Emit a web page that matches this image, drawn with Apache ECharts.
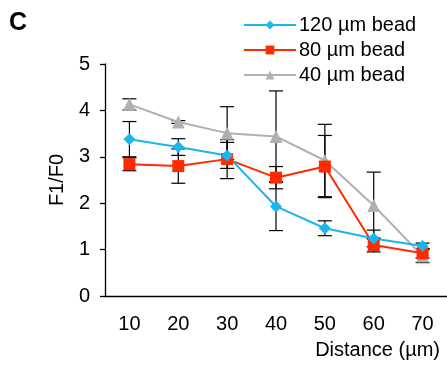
<!DOCTYPE html>
<html>
<head>
<meta charset="utf-8">
<script src="https://cdn.jsdelivr.net/npm/echarts@6/dist/echarts.min.js"></script>
<style>
  html, body { margin: 0; padding: 0; background: #fff; }
  #chart { width: 447px; height: 365px; }
</style>
</head>
<body>
<div id="chart"></div>
<script>
// Distance from bead (µm)
const distances = ['10', '20', '30', '40', '50', '60', '70'];

// Mean F1/F0 per bead size
const bead120 = [3.38, 3.21, 3.03, 1.93, 1.46, 1.24, 1.08];
const bead80  = [2.84, 2.80, 2.95, 2.55, 2.79, 1.10, 0.92];
const bead40  = [4.13, 3.75, 3.51, 3.44, 2.92, 1.95, 0.86];

// Error (±) per point
const err120 = [0.38, 0.18, 0.28, 0.52, 0.16, 0.18, 0.06];
const err80  = [0.14, 0.37, 0.42, 0.24, 0.67, 0.15, 0.10];
const err40  = [0.12, 0.03, 0.57, 0.98, 0.78, 0.72, 0.14];

const yTicks = [0, 1, 2, 3, 4, 5];

const FONT = '"Liberation Sans", Arial, Helvetica, sans-serif';

function errorData(means, errs) {
  return means.map((m, i) => [i, m - errs[i], m + errs[i]]);
}

function errorSeries(means, errs) {
  return {
    type: 'custom',
    silent: true,
    z: 1,
    data: errorData(means, errs),
    renderItem: function (params, api) {
      const lo = api.coord([api.value(0), api.value(1)]);
      const hi = api.coord([api.value(0), api.value(2)]);
      const hw = 7;
      const style = { stroke: '#000', lineWidth: 1.2 };
      return {
        type: 'group',
        children: [
          { type: 'line', shape: { x1: hi[0], y1: hi[1], x2: lo[0], y2: lo[1] }, style: style },
          { type: 'line', shape: { x1: hi[0] - hw, y1: hi[1], x2: hi[0] + hw, y2: hi[1] }, style: style },
          { type: 'line', shape: { x1: lo[0] - hw, y1: lo[1], x2: lo[0] + hw, y2: lo[1] }, style: style }
        ]
      };
    }
  };
}

function lineSeries(name, values, color, symbol, size) {
  return {
    name: name,
    type: 'line',
    data: values,
    z: 3,
    symbol: symbol,
    symbolSize: size,
    showAllSymbol: true,
    lineStyle: { color: color, width: 2 },
    itemStyle: { color: color },
    emphasis: { disabled: true }
  };
}

const chart = echarts.init(document.getElementById('chart'), null, { renderer: 'canvas' });

chart.setOption({
  animation: false,
  backgroundColor: '#fff',
  textStyle: { fontFamily: FONT },
  graphic: [
    {
      type: 'text', left: 9, top: 11,
      style: { text: 'C', font: 'bold 25px ' + FONT, fill: '#000' }
    }
  ],
  legend: {
    orient: 'vertical',
    left: 243,
    top: 15,
    padding: 0,
    itemWidth: 52,
    itemHeight: 11,
    itemGap: 5,
    textStyle: { fontSize: 20, color: '#000', fontFamily: FONT, padding: [0, 0, 0, -2] },
    data: ['120 µm bead', '80 µm bead', '40 µm bead']
  },
  grid: { left: 105, right: 0, top: 64, bottom: 69 },
  xAxis: {
    type: 'category',
    data: distances,
    boundaryGap: true,
    name: 'Distance (µm)',
    nameLocation: 'end',
    nameGap: 0,
    nameTextStyle: {
      fontSize: 20, color: '#000', fontFamily: FONT,
      align: 'right', verticalAlign: 'top', padding: [44, 7, 0, 0]
    },
    axisLine: { lineStyle: { color: '#000', width: 1.3 } },
    axisTick: { alignWithLabel: true, length: 5, lineStyle: { color: '#000', width: 1.3 } },
    axisLabel: { fontSize: 20, color: '#000', fontFamily: FONT, margin: 18 },
    splitLine: { show: false }
  },
  yAxis: {
    type: 'value',
    min: yTicks[0],
    max: yTicks[yTicks.length - 1],
    interval: 1,
    name: 'F1/F0',
    nameLocation: 'middle',
    nameGap: 40,
    nameRotate: 90,
    nameTextStyle: { fontSize: 20, color: '#000', fontFamily: FONT, padding: [0, 0, -6, 0] },
    axisLine: { show: true, lineStyle: { color: '#000', width: 1.3 } },
    axisTick: { show: true, length: 5, lineStyle: { color: '#000', width: 1.3 } },
    axisLabel: { fontSize: 20, color: '#000', fontFamily: FONT, margin: 15 },
    splitLine: { show: false }
  },
  series: [
    errorSeries(bead120, err120),
    errorSeries(bead80, err80),
    errorSeries(bead40, err40),
    lineSeries('40 µm bead', bead40, '#b0b0b0', 'triangle', 13),
    lineSeries('80 µm bead', bead80, '#ff2a00', 'rect', 12),
    lineSeries('120 µm bead', bead120, '#1ab6ee', 'diamond', 12)
  ]
});
</script>
</body>
</html>
